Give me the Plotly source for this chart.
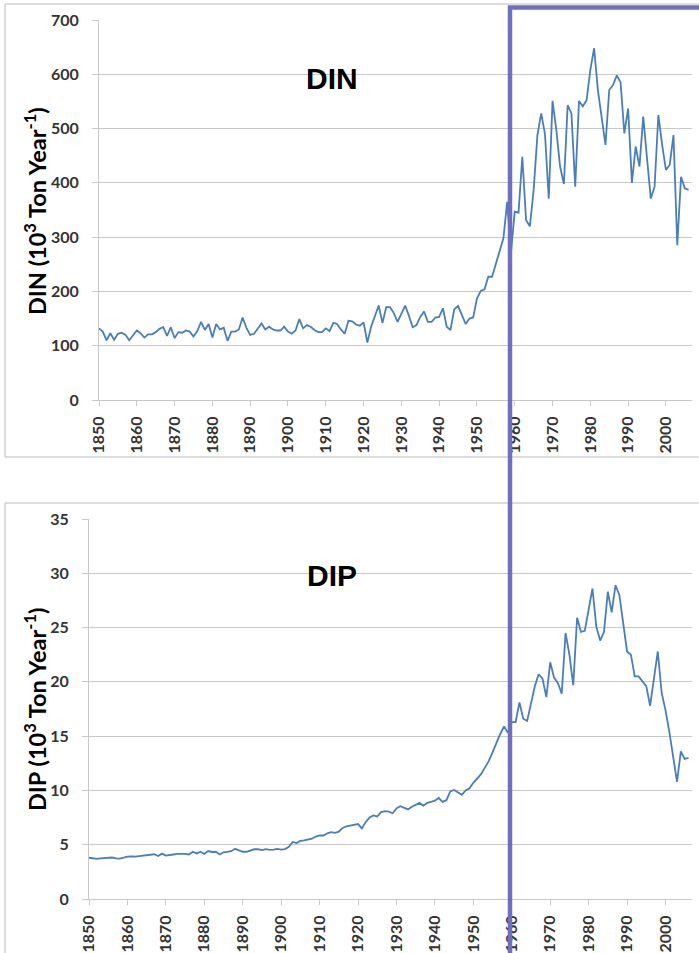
import plotly.graph_objects as go

years = list(range(1850, 2007))

din = [132, 126, 110, 123, 111, 122, 124, 120, 110, 118,
       128, 123, 115, 121, 121, 125, 131, 134, 118, 134,
       114, 125, 124, 128, 126, 117, 127, 144, 129, 140,
       115, 140, 130, 133, 109, 126, 126, 130, 152, 133,
       120, 122, 132, 141, 130, 135, 130, 128, 128, 135,
       126, 122, 128, 149, 132, 138, 135, 129, 125, 125,
       132, 127, 142, 140, 130, 122, 146, 145, 139, 137,
       143, 106, 135, 153, 174, 142, 171, 171, 160, 144,
       160, 174, 155, 134, 138, 153, 163, 144, 144, 152,
       153, 169, 135, 129, 167, 173, 157, 140, 150, 152,
       187, 201, 204, 227, 227, 250, 275, 298, 365, 272,
       347, 345, 448, 331, 320, 387, 488, 528, 490, 371,
       551, 497, 430, 398, 543, 528, 393, 551, 541, 552,
       608, 648, 571, 516, 470, 571, 580, 598, 585, 491,
       537, 400, 467, 430, 522, 445, 371, 393, 525, 470,
       424, 433, 488, 285, 411, 390, 387]

dip = [3.80, 3.78, 3.70, 3.75, 3.77, 3.80, 3.82, 3.75, 3.72, 3.80,
       3.90, 3.92, 3.90, 3.95, 4.00, 4.05, 4.12, 4.12, 3.96, 4.18,
       4.00, 4.08, 4.10, 4.15, 4.18, 4.15, 4.10, 4.35, 4.20, 4.35,
       4.15, 4.42, 4.33, 4.35, 4.10, 4.30, 4.35, 4.40, 4.62, 4.45,
       4.35, 4.35, 4.45, 4.58, 4.58, 4.50, 4.60, 4.52, 4.55, 4.62,
       4.55, 4.60, 4.80, 5.25, 5.15, 5.35, 5.40, 5.45, 5.55, 5.75,
       5.85, 5.85, 6.05, 6.15, 6.10, 6.20, 6.55, 6.70, 6.75, 6.80,
       6.90, 6.50, 7.10, 7.50, 7.70, 7.60, 8.00, 8.10, 8.05, 7.90,
       8.35, 8.55, 8.40, 8.25, 8.50, 8.70, 8.85, 8.60, 8.85, 8.95,
       9.05, 9.30, 8.95, 9.10, 9.90, 10.05, 9.85, 9.60, 10.00, 10.20,
       10.70, 11.10, 11.50, 12.10, 12.70, 13.50, 14.40, 15.20, 15.90, 15.30,
       16.3, 16.3, 18.1, 16.6, 16.4, 17.9, 19.6, 20.7, 20.3, 18.6,
       21.8, 20.4, 19.9, 18.9, 24.5, 22.5, 19.7, 25.9, 24.6, 24.7,
       26.6, 28.6, 25.1, 23.8, 24.6, 28.3, 26.4, 28.9, 28.0, 25.4,
       22.8, 22.5, 20.5, 20.5, 20.0, 19.6, 17.8, 20.2, 22.8, 19.0,
       17.4, 15.4, 13.1, 10.8, 13.6, 12.9, 13.0]

x_ticks = list(range(1850, 2001, 10))
din_ticks = [0, 100, 200, 300, 400, 500, 600, 700]
dip_ticks = [0, 5, 10, 15, 20, 25, 30, 35]

W, H = 699, 953
LINE = "#4A7EBB"
GRID = "#C8C8C8"
TICKFONT = dict(family="Lato, 'Open Sans', sans-serif", size=16, color="#333333", weight="bold")


def px(x):
    return x / W


def py(y):
    return 1 - y / H


fig = go.Figure()
fig.add_trace(go.Scatter(x=years, y=din, mode="lines", line=dict(color=LINE, width=1.8),
                         xaxis="x", yaxis="y", showlegend=False))
fig.add_trace(go.Scatter(x=years, y=dip, mode="lines", line=dict(color=LINE, width=1.8),
                         xaxis="x2", yaxis="y2", showlegend=False))

xcommon = dict(range=[1850, 2006.9], tickvals=x_ticks, tickangle=-90, ticks="outside",
               ticklen=5, tickcolor=GRID, showgrid=False, zeroline=False, showline=True,
               linecolor=GRID, linewidth=1, tickfont=TICKFONT, ticklabelstandoff=4,
               automargin=False)
ycommon = dict(ticks="outside", ticklen=6, tickcolor=GRID, showgrid=True, gridcolor=GRID,
               gridwidth=1, zeroline=False, showline=True, linecolor=GRID, linewidth=1,
               tickfont=TICKFONT, ticklabelstandoff=10, automargin=False)

fig.update_layout(
    template="none",
    width=W, height=H, autosize=False,
    margin=dict(l=0, r=0, t=0, b=0, pad=0),
    paper_bgcolor="white", plot_bgcolor="white",
    xaxis=dict(domain=[px(99), px(692)], anchor="y", **xcommon),
    yaxis=dict(domain=[py(400), py(20)], anchor="x", range=[0, 700], tickvals=din_ticks, **ycommon),
    xaxis2=dict(domain=[px(89), px(692)], anchor="y2", **xcommon),
    yaxis2=dict(domain=[py(899), py(519)], anchor="x2", range=[0, 35], tickvals=dip_ticks, **ycommon),
)

title_font = dict(family="Liberation Sans, Arial, sans-serif", size=30, color="black", weight="bold")
axis_font = dict(family="Lato, 'Open Sans', sans-serif", size=23.5, color="black", weight="bold")

annotations = [
    dict(text="DIN", x=px(332), y=py(78), font=title_font),
    dict(text="DIP", x=px(332), y=py(575), font=title_font),
    dict(text="DIN (10<sup>3</sup> Ton Year<sup>-1</sup>)", x=px(35), y=py(211),
         textangle=-90, font=axis_font),
    dict(text="DIP (10<sup>3</sup> Ton Year<sup>-1</sup>)", x=px(35), y=py(710),
         textangle=-90, font=axis_font),
]
for a in annotations:
    a.update(xref="paper", yref="paper", showarrow=False, xanchor="center", yanchor="middle")
fig.update_layout(annotations=annotations)

shapes = [
    # panel frames
    dict(type="path", path=f"M {px(720)},{py(4)} L {px(5)},{py(4)} L {px(5)},{py(457)} L {px(720)},{py(457)}",
         line=dict(color="#BBBBBB", width=1)),
    dict(type="path", path=f"M {px(720)},{py(503)} L {px(5)},{py(503)} L {px(5)},{py(980)}",
         line=dict(color="#BBBBBB", width=1)),
    # highlight frame
    dict(type="path", path=f"M {px(510)},{py(990)} L {px(510)},{py(7.5)} L {px(730)},{py(7.5)}",
         line=dict(color="#6F6FC0", width=4.5), layer="above"),
]
for s in shapes:
    s.update(xref="paper", yref="paper")
fig.update_layout(shapes=shapes)

fig.write_html(
    "out.html",
    config={"responsive": False, "displayModeBar": False},
    post_script="document.body.style.margin='0px';document.body.style.overflow='hidden';",
)
